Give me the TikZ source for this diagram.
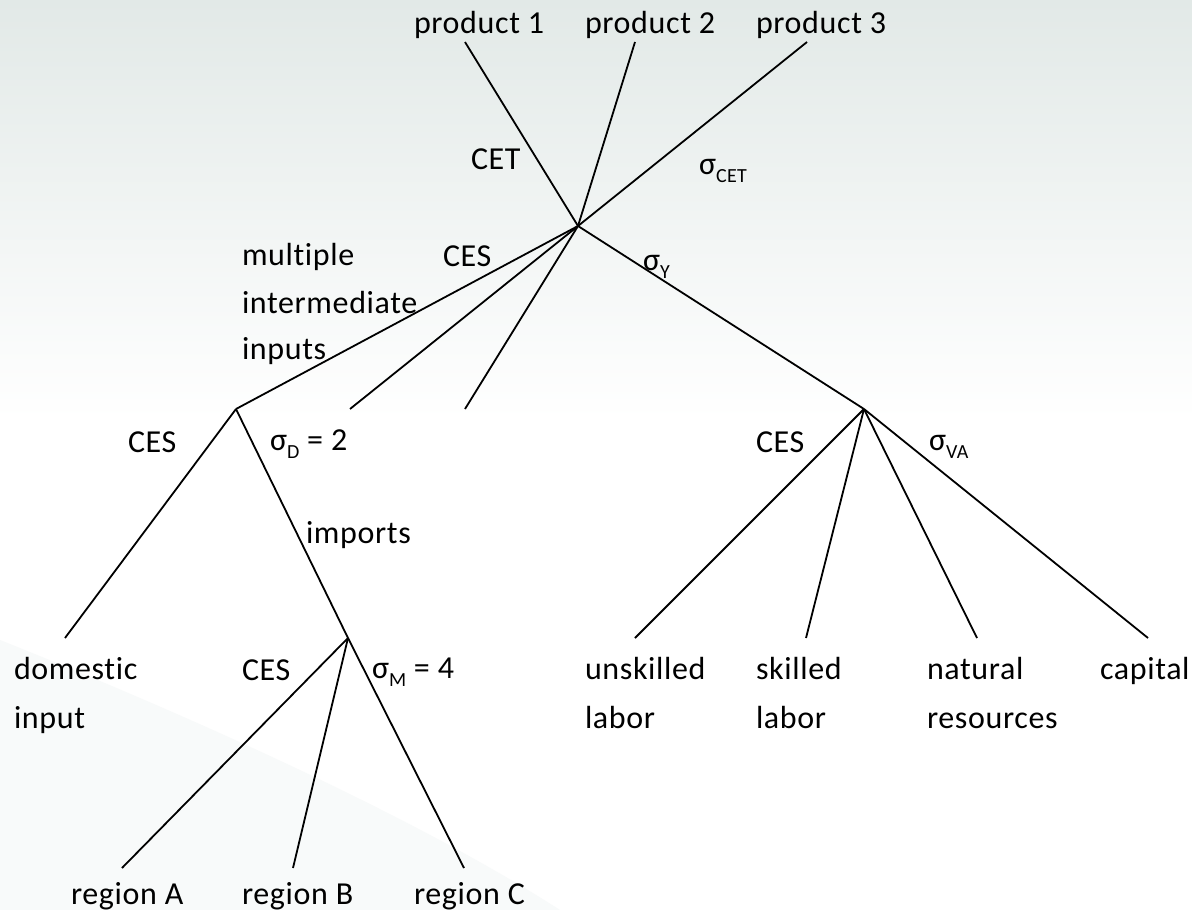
\documentclass[tikz,border=0pt]{standalone}
\usepackage{fontspec}
\setmainfont{Carlito}[RawFeature={-liga;-clig}, LetterSpace=2]
\newcommand\subtxt[1]{\raisebox{-0.25em}{\fontsize{20}{20}\selectfont #1}}
\definecolor{bgtop}{RGB}{226,233,231}
\definecolor{bgswoosh}{RGB}{248,250,250}
\tikzset{
  branch/.style={line width=1.8pt, black},
  lbl/.style={anchor=base west, inner sep=0pt, outer sep=0pt,
              font=\fontsize{32}{38}\selectfont, text=black},
}
\begin{document}
\begin{tikzpicture}[x=1pt, y=-1pt]
  % slide background
  \useasboundingbox (0,0) rectangle (1192,910);
  \fill[white] (0,0) rectangle (1192,910);
  \fill[top color=bgtop, bottom color=white] (0,0) rectangle (1192,420);
  \fill[bgswoosh] (0,640) .. controls (200,720) and (420,820) .. (560,910)
                  -- (0,910) -- cycle;

  % junctions and branch ends
  \coordinate (top) at (578,226);
  \coordinate (mid) at (236,409);
  \coordinate (imp) at (348,638);
  \coordinate (va)  at (864,409);
  \coordinate (p1end) at (465,42);
  \coordinate (p2end) at (635,42);
  \coordinate (p3end) at (807,42);
  \coordinate (mi2end) at (350,409);
  \coordinate (mi3end) at (465,409);
  \coordinate (domend) at (65,638);
  \coordinate (raend) at (122,868);
  \coordinate (rbend) at (293,868);
  \coordinate (rcend) at (464,868);
  \coordinate (ulend) at (635,638);
  \coordinate (slend) at (806,638);
  \coordinate (nrend) at (977,638);
  \coordinate (kend)  at (1148,638);

  % output nest (CET)
  \draw[branch] (top) -- (p1end);
  \draw[branch] (top) -- (p2end);
  \draw[branch] (top) -- (p3end);
  % production nest
  \draw[branch] (top) -- (mid);
  \draw[branch] (top) -- (mi2end);
  \draw[branch] (top) -- (mi3end);
  \draw[branch] (top) -- (va);
  % intermediate input nest
  \draw[branch] (mid) -- (domend);
  \draw[branch] (mid) -- (imp);
  % import nest
  \draw[branch] (imp) -- (raend);
  \draw[branch] (imp) -- (rbend);
  \draw[branch] (imp) -- (rcend);
  % value added nest
  \draw[branch] (va) -- (ulend);
  \draw[branch] (va) -- (slend);
  \draw[branch] (va) -- (nrend);
  \draw[branch] (va) -- (kend);

  % labels
  \node[lbl] (prod1) at (414,33) {product 1};
  \node[lbl] (prod2) at (585,33) {product 2};
  \node[lbl] (prod3) at (756,33) {product 3};
  \node[lbl] (cet) at (471,169) {CET};
  \node[lbl] (scet) at (699,174) {σ\subtxt{CET}};
  \node[lbl] (mult1) at (242,265) {multiple};
  \node[lbl] (mult2) at (242,313) {intermediate};
  \node[lbl] (mult3) at (242,359) {inputs};
  \node[lbl] (cesy) at (443,266) {CES};
  \node[lbl] (sy) at (643,270) {σ\subtxt{Y}};
  \node[lbl] (cesd) at (128,452) {CES};
  \node[lbl] (sd) at (270,450) {σ\subtxt{D} = 2};
  \node[lbl] (imports) at (306,543) {imports};
  \node[lbl] (dom1) at (14,679) {domestic};
  \node[lbl] (dom2) at (14,728) {input};
  \node[lbl] (cesm) at (242,680) {CES};
  \node[lbl] (sm) at (372,678) {σ\subtxt{M} = 4};
  \node[lbl] (rega) at (71,904) {region A};
  \node[lbl] (regb) at (242,904) {region B};
  \node[lbl] (regc) at (414,904) {region C};
  \node[lbl] (cesva) at (756,452) {CES};
  \node[lbl] (sva) at (929,450) {σ\subtxt{VA}};
  \node[lbl] (ul1) at (585,679) {unskilled};
  \node[lbl] (ul2) at (585,728) {labor};
  \node[lbl] (sl1) at (756,679) {skilled};
  \node[lbl] (sl2) at (756,728) {labor};
  \node[lbl] (nr1) at (927,679) {natural};
  \node[lbl] (nr2) at (927,728) {resources};
  \node[lbl] (cap) at (1100,679) {capital};
\end{tikzpicture}
\end{document}
